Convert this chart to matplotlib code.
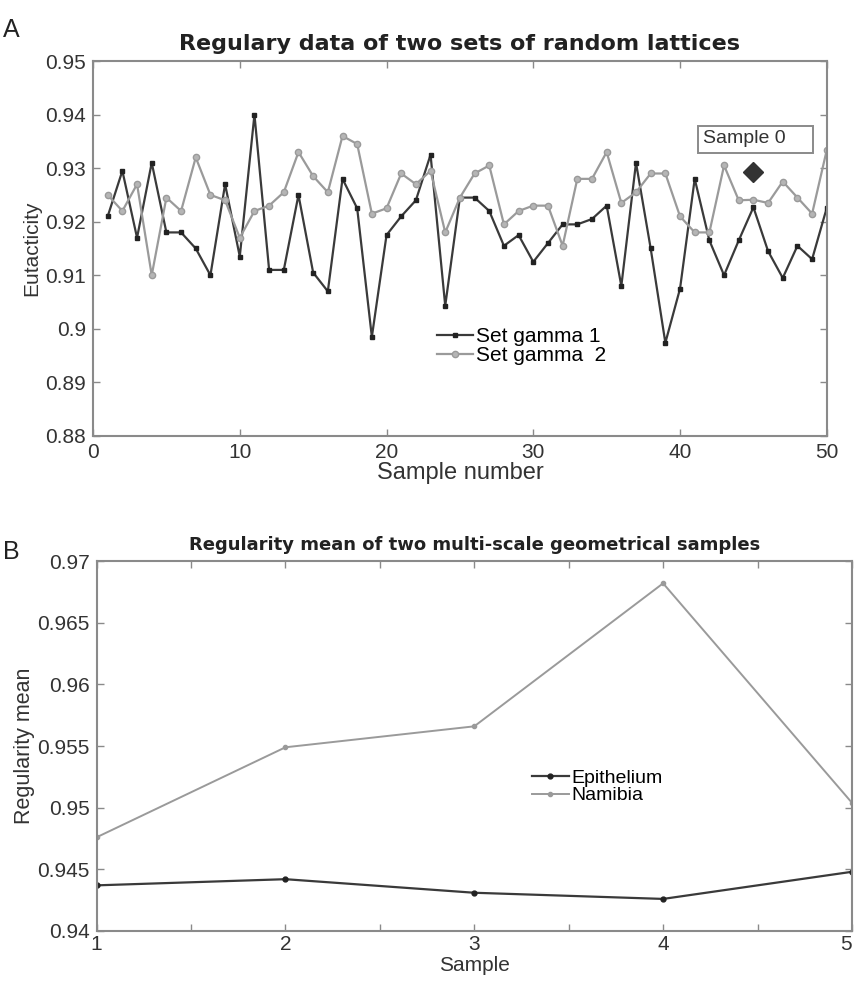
"""
Regularity plots: two sets of random lattices and multi-scale samples.
"""

import numpy as np
import matplotlib
matplotlib.use("Agg")
import matplotlib.pyplot as plt
from matplotlib.patches import Rectangle

plt.rcParams['font.family'] = ['Liberation Sans', 'DejaVu Sans']

samples = np.arange(1, 51)
gamma1 = [0.921, 0.9295, 0.917, 0.931, 0.918, 0.918, 0.915, 0.910, 0.927, 0.9135,
          0.940, 0.911, 0.911, 0.925, 0.9105, 0.907, 0.928, 0.9225, 0.8985, 0.9175,
          0.921, 0.924, 0.9325, 0.9043, 0.9245, 0.9245, 0.922, 0.9155, 0.9175, 0.9125,
          0.916, 0.9195, 0.9195, 0.9205, 0.923, 0.908, 0.931, 0.915, 0.8974, 0.9075,
          0.928, 0.9165, 0.910, 0.9165, 0.9227, 0.9145, 0.9095, 0.9155, 0.913, 0.9226]
gamma2 = [0.925, 0.922, 0.927, 0.910, 0.9245, 0.922, 0.932, 0.925, 0.924, 0.917,
          0.922, 0.923, 0.9255, 0.933, 0.9285, 0.9255, 0.936, 0.9345, 0.9215, 0.9225,
          0.929, 0.927, 0.9295, 0.918, 0.9245, 0.929, 0.9305, 0.9195, 0.922, 0.923,
          0.923, 0.9155, 0.928, 0.928, 0.933, 0.9235, 0.9255, 0.929, 0.929, 0.921,
          0.918, 0.918, 0.9305, 0.924, 0.9241, 0.9235, 0.9275, 0.9245, 0.9215, 0.9334]
sample0 = (45, 0.9292)

geo_samples = [1, 2, 3, 4, 5]
epithelium = [0.9437, 0.9442, 0.9431, 0.9426, 0.9448]
namibia = [0.9476, 0.9549, 0.9566, 0.9682, 0.9504]

DARK = '#3a3a3a'
LIGHT = '#9a9a9a'
SPINE = '#8a8a8a'


def style_axes(ax):
    for s in ax.spines.values():
        s.set_color(SPINE)
        s.set_linewidth(1.5)
    ax.tick_params(direction='in', top=True, right=True, color=SPINE,
                   length=5, width=1, pad=5)


fig = plt.figure(figsize=(8.55, 9.81), dpi=100)

# ---- panel A ----
ax1 = fig.add_axes([0.1088, 0.5556, 0.8582, 0.3822])
ax1.plot(samples, gamma1, '-s', color=DARK, lw=1.6, ms=3,
         mfc='#222222', mec='#222222', label='Set gamma 1')
ax1.plot(samples, gamma2, '-o', color=LIGHT, lw=1.6, ms=4.5,
         mfc='#b5b5b5', mec=LIGHT, label='Set gamma  2')
ax1.plot(*sample0, 'D', color='#333333', ms=10)
ax1.add_patch(Rectangle((41.2, 0.93284), 7.83, 0.0051, fill=False,
                        ec=SPINE, lw=1.4))
ax1.text(41.55, 0.93545, 'Sample 0', fontsize=14, color='#333333', va='center')
ax1.set_xlim(0, 50)
ax1.set_ylim(0.88, 0.95)
ax1.set_xticks([0, 10, 20, 30, 40, 50])
ax1.set_yticks([0.88, 0.89, 0.9, 0.91, 0.92, 0.93, 0.94, 0.95])
ax1.set_yticklabels(['0.88', '0.89', '0.9', '0.91', '0.92', '0.93', '0.94', '0.95'])
ax1.tick_params(labelsize=15, labelcolor='#333333')
style_axes(ax1)
ax1.set_title('Regulary data of two sets of random lattices', fontsize=16,
              fontweight='bold', family='DejaVu Sans', color='#222222', pad=8)
ax1.set_xlabel('Sample number', fontsize=17, color='#333333', labelpad=0)
ax1.set_ylabel('Eutacticity', fontsize=15, color='#333333', labelpad=3)
ax1.legend(loc='center left', bbox_to_anchor=(0.455, 0.24), frameon=False,
           fontsize=15, handlelength=1.7, handletextpad=0.15, labelspacing=0.0,
           borderpad=0)

# ---- panel B ----
ax2 = fig.add_axes([0.113, 0.051, 0.8834, 0.377])
ax2.plot(geo_samples, epithelium, '-o', color=DARK, lw=1.6, ms=3.5,
         mfc='#222222', mec='#222222', label='Epithelium')
ax2.plot(geo_samples, namibia, '-o', color=LIGHT, lw=1.4, ms=3,
         mfc=LIGHT, mec=LIGHT, label='Namibia')
ax2.set_xlim(1, 5)
ax2.set_ylim(0.94, 0.97)
ax2.set_xticks([1, 1.5, 2, 2.5, 3, 3.5, 4, 4.5, 5])
ax2.set_xticklabels(['1', '', '2', '', '3', '', '4', '', '5'])
ax2.set_yticks([0.94, 0.945, 0.95, 0.955, 0.96, 0.965, 0.97])
ax2.set_yticklabels(['0.94', '0.945', '0.95', '0.955', '0.96', '0.965', '0.97'])
ax2.tick_params(labelsize=15, labelcolor='#333333')
style_axes(ax2)
ax2.tick_params(axis='x', pad=3)
ax2.get_xticklabels()[-1].set_ha('right')
ax2.set_title('Regularity mean of two multi-scale geometrical samples',
              fontsize=13, fontweight='bold', family='DejaVu Sans',
              color='#222222', pad=8)
ax2.set_xlabel('Sample', fontsize=15, color='#333333', labelpad=1)
ax2.set_ylabel('Regularity mean', fontsize=15.5, color='#333333', labelpad=2)
ax2.legend(loc='center left', bbox_to_anchor=(0.563, 0.39), frameon=False,
           fontsize=14, handlelength=1.9, handletextpad=0.15, labelspacing=0.0,
           borderpad=0)

fig.text(0.004, 0.962, 'A', fontsize=18, color='#222222')
fig.text(0.004, 0.43, 'B', fontsize=18, color='#222222')

fig.savefig('out.png', dpi=100)
plt.close(fig)
